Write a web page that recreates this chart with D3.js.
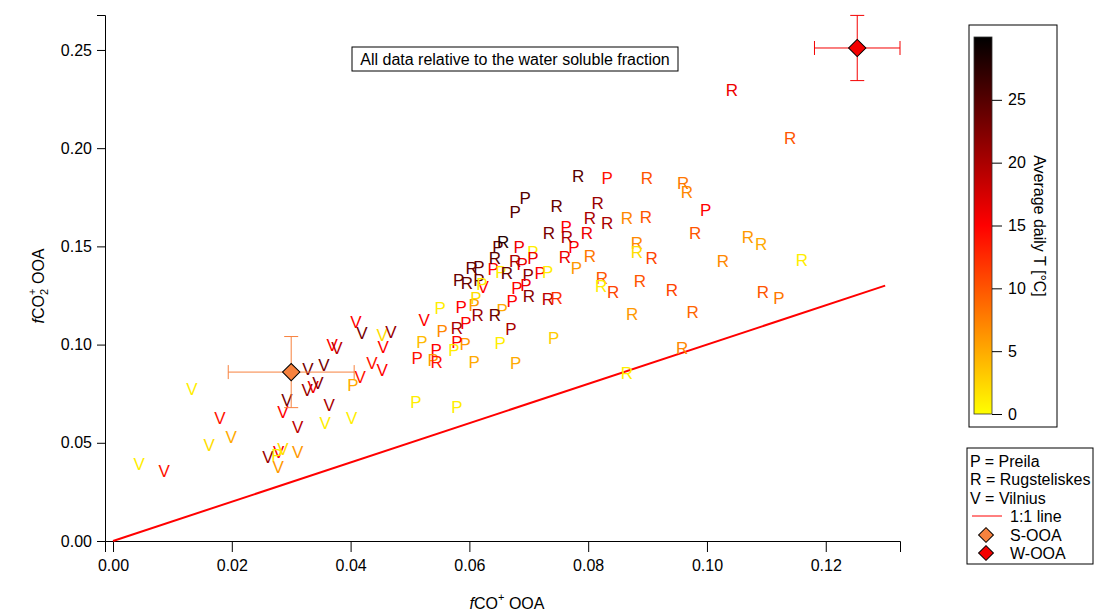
<!DOCTYPE html>
<html>
<head>
<meta charset="utf-8">
<script src="https://cdn.jsdelivr.net/npm/d3@7"></script>
<style>
  body { margin: 0; background: #fff; }
  svg { font-family: "Liberation Sans", Arial, sans-serif; }
</style>
</head>
<body>
<div id="chart"></div>
<script>
// Preila points: fCO+, fCO2+, average daily T
var preilaX = [0.0832, 0.0694, 0.0677, 0.0763, 0.0776, 0.0648, 0.0684, 0.0707, 0.0689, 0.0707, 0.0780, 0.0616,
               0.0640, 0.0653, 0.0699, 0.0719, 0.0732, 0.0680, 0.0695, 0.0672, 0.0582, 0.0616, 0.0621, 0.0551,
               0.0586, 0.0608, 0.0611, 0.0655, 0.0594, 0.0670, 0.0554, 0.0742, 0.0652, 0.0593, 0.0579, 0.0574,
               0.0544, 0.0520, 0.0512, 0.0539, 0.0608, 0.0678, 0.0404, 0.0510, 0.0579, 0.1121, 0.0998, 0.0276]
var preilaY = [0.1848, 0.1746, 0.1675, 0.1599, 0.1497, 0.1497, 0.1497, 0.1471, 0.1410, 0.1441, 0.1390, 0.1395,
               0.1385, 0.1370, 0.1354, 0.1365, 0.1370, 0.1288, 0.1303, 0.1222, 0.1329, 0.1329, 0.1309, 0.1186,
               0.1191, 0.1202, 0.1237, 0.1176, 0.1110, 0.1079, 0.1069, 0.1034, 0.1008, 0.1003, 0.1013, 0.0973,
               0.0973, 0.1013, 0.0932, 0.0922, 0.0911, 0.0906, 0.0794, 0.0708, 0.0682, 0.1237, 0.1685, 0.0438]
var preilaT = [14, 25, 25, 15, 15, 24, 16, 1, 16, 16, 6, 24,
               15, 1, 22, 15, 1, 15, 16, 15, 24, 24, 1, 1,
               15, 6, 2, 5, 15, 20, 7, 3, 1, 6, 15, 1,
               15, 4, 14, 6, 5, 5, 5, 1, 1, 8, 15, 1]

// Rugsteliskes points
var rugX = [0.1042, 0.1140, 0.0783, 0.0899, 0.0960, 0.0966, 0.0747, 0.0816, 0.0803, 0.0832, 0.0865, 0.0897,
            0.0734, 0.0764, 0.0798, 0.0980, 0.1069, 0.1091, 0.0882, 0.0882, 0.0907, 0.0657, 0.0761, 0.0803,
            0.0643, 0.0677, 0.0663, 0.0823, 0.0822, 0.0842, 0.0887, 0.0941, 0.0700, 0.0732, 0.0747, 0.1160,
            0.1027, 0.1094, 0.0874, 0.0976, 0.0958, 0.0865, 0.0604, 0.0596, 0.0614, 0.0643, 0.0579, 0.0545]
var rugY = [0.2296, 0.2052, 0.1858, 0.1848, 0.1823, 0.1777, 0.1706, 0.1721, 0.1645, 0.1619, 0.1645, 0.1650,
            0.1568, 0.1548, 0.1568, 0.1568, 0.1548, 0.1512, 0.1517, 0.1471, 0.1441, 0.1522, 0.1446, 0.1451,
            0.1441, 0.1426, 0.1365, 0.1339, 0.1298, 0.1268, 0.1324, 0.1278, 0.1248, 0.1232, 0.1237, 0.1431,
            0.1426, 0.1268, 0.1156, 0.1166, 0.0983, 0.0855, 0.1390, 0.1314, 0.1151, 0.1151, 0.1085, 0.0911]
var rugT = [16, 10, 25, 10, 8, 7, 24, 21, 20, 20, 7, 10,
            23, 20, 16, 10, 6, 5, 7, 2, 11, 28, 16, 8,
            25, 20, 24, 10, 1, 11, 10, 11, 22, 19, 12, 1,
            7, 10, 6, 9, 7, 1, 24, 24, 21, 24, 20, 14]

// Vilnius points
var vilX = [0.0044, 0.0086, 0.0133, 0.0162, 0.0180, 0.0199, 0.0261, 0.0279, 0.0286, 0.0278, 0.0311, 0.0311,
            0.0286, 0.0293, 0.0327, 0.0337, 0.0345, 0.0328, 0.0355, 0.0364, 0.0357, 0.0402, 0.0416, 0.0436,
            0.0453, 0.0369, 0.0377, 0.0409, 0.0419, 0.0453, 0.0468, 0.0455, 0.0524, 0.0623]
var vilY = [0.0392, 0.0356, 0.0774, 0.0489, 0.0626, 0.0530, 0.0428, 0.0453, 0.0468, 0.0377, 0.0453, 0.0580,
            0.0657, 0.0718, 0.0769, 0.0784, 0.0804, 0.0876, 0.0896, 0.0692, 0.0601, 0.0626, 0.0835, 0.0906,
            0.0871, 0.0998, 0.0983, 0.1115, 0.1059, 0.1049, 0.1064, 0.0988, 0.1125, 0.1293]
var vilT = [1, 14, 1, 2, 14, 5, 21, 15, 2, 6, 6, 19,
            15, 23, 21, 16, 22, 23, 23, 20, 1, 1, 14, 14,
            15, 15, 19, 15, 23, 2, 21, 15, 15, 15]

// factor centroids with error bars
var factorNames = ["S-OOA", "W-OOA"]
var factorX = [0.0300, 0.1253]
var factorY = [0.0860, 0.2510]
var factorXErr = [0.0106, 0.0072]
var factorYErr = [0.0181, 0.0166]
var factorColors = ["#f7823e", "#f40000"]

var xTicks = [0, 0.02, 0.04, 0.06, 0.08, 0.10, 0.12]
var yTicks = [0, 0.05, 0.10, 0.15, 0.20, 0.25]
var tTicks = [0, 5, 10, 15, 20, 25]

var width = 1094, height = 614
var fs = 16

var svg = d3.select("#chart").append("svg")
    .attr("width", width)
    .attr("height", height)

var x = d3.scaleLinear().domain([-0.00135, 0.1325]).range([105, 900])
var y = d3.scaleLinear().domain([0, 0.2678]).range([541, 15])

// yellow -> red -> black colour table
var color = d3.scaleLinear()
    .domain([0, 15, 30])
    .range(["#ffff00", "#ff0000", "#000000"])
    .clamp(true)

// axes
svg.append("g").attr("transform", "translate(0,541)")
    .call(d3.axisBottom(x).tickValues(xTicks).tickFormat(d3.format(".2f")).tickSizeOuter(0).tickSize(11).tickPadding(8))
svg.append("g").attr("transform", "translate(105,0)")
    .call(d3.axisLeft(y).tickValues(yTicks).tickFormat(d3.format(".2f")).tickSizeOuter(0).tickSize(8).tickPadding(5))
svg.selectAll(".domain").attr("stroke", "#000")
svg.selectAll(".tick line").attr("stroke", "#000")
svg.selectAll(".tick text").attr("font-size", fs).attr("fill", "#000").attr("font-family", "Liberation Sans, Arial, sans-serif")

// axis titles
var xt = svg.append("text").attr("x", 507).attr("y", 609).attr("text-anchor", "middle").attr("font-size", fs)
xt.append("tspan").attr("font-style", "italic").text("f")
xt.append("tspan").text("CO")
xt.append("tspan").attr("dy", -8).attr("font-size", 11).text("+")
xt.append("tspan").attr("dy", 8).text(" OOA")

var yt = svg.append("text").attr("transform", "translate(44,286) rotate(-90)").attr("text-anchor", "middle").attr("font-size", fs)
yt.append("tspan").attr("font-style", "italic").text("f")
yt.append("tspan").text("CO")
yt.append("tspan").attr("dy", 4).attr("font-size", 11).text("2")
yt.append("tspan").attr("dy", -12).attr("dx", -6).attr("font-size", 11).text("+")
yt.append("tspan").attr("dy", 8).text(" OOA")

// annotation box
var note = svg.append("g").attr("transform", "translate(515,59)")
note.append("rect").attr("x", -163).attr("y", -12).attr("width", 326).attr("height", 24)
    .attr("fill", "#fff").attr("stroke", "#000")
note.append("text").attr("text-anchor", "middle").attr("dy", "0.35em").attr("font-size", fs)
    .text("All data relative to the water soluble fraction")

// 1:1 line
svg.append("line")
    .attr("x1", x(0)).attr("y1", y(0)).attr("x2", x(0.13)).attr("y2", y(0.13))
    .attr("stroke", "#ff0000").attr("stroke-width", 2)

// letters
function drawSite(letter, xs, ys, ts) {
    svg.append("g").selectAll("text")
        .data(xs.map(function(v, i) { return { x: v, y: ys[i], t: ts[i] } }))
        .enter()
        .append("text")
        .attr("x", function(d) { return x(d.x) })
        .attr("y", function(d) { return y(d.y) })
        .attr("dy", "0.36em")
        .attr("text-anchor", "middle")
        .attr("font-size", 17)
        .attr("fill", function(d) { return color(d.t) })
        .text(letter)
}
drawSite("V", vilX, vilY, vilT)
drawSite("P", preilaX, preilaY, preilaT)
drawSite("R", rugX, rugY, rugT)

// factor markers with error bars
factorNames.forEach(function(n, i) {
    var g = svg.append("g")
    var cx = x(factorX[i]), cy = y(factorY[i])
    var x0 = x(factorX[i] - factorXErr[i]), x1 = x(factorX[i] + factorXErr[i])
    var y0 = y(factorY[i] - factorYErr[i]), y1 = y(factorY[i] + factorYErr[i])
    var c = factorColors[i]
    g.append("line").attr("x1", x0).attr("x2", x1).attr("y1", cy).attr("y2", cy).attr("stroke", c)
    g.append("line").attr("x1", cx).attr("x2", cx).attr("y1", y0).attr("y2", y1).attr("stroke", c)
    g.append("line").attr("x1", x0).attr("x2", x0).attr("y1", cy - 7).attr("y2", cy + 7).attr("stroke", c)
    g.append("line").attr("x1", x1).attr("x2", x1).attr("y1", cy - 7).attr("y2", cy + 7).attr("stroke", c)
    g.append("line").attr("x1", cx - 7).attr("x2", cx + 7).attr("y1", y0).attr("y2", y0).attr("stroke", c)
    g.append("line").attr("x1", cx - 7).attr("x2", cx + 7).attr("y1", y1).attr("y2", y1).attr("stroke", c)
    g.append("path").attr("d", d3.symbol().type(d3.symbolSquare).size(150))
        .attr("transform", "translate(" + cx + "," + cy + ") rotate(45)")
        .attr("fill", c).attr("stroke", "#000").attr("stroke-width", 1)
})

// colour scale box
var cb = svg.append("g")
cb.append("rect").attr("x", 969).attr("y", 25).attr("width", 88).attr("height", 402)
    .attr("fill", "#fff").attr("stroke", "#000")
var tScale = d3.scaleLinear().domain([0, 30]).range([414, 37])
var defs = svg.append("defs")
var grad = defs.append("linearGradient").attr("id", "tgrad")
    .attr("x1", 0).attr("y1", 1).attr("x2", 0).attr("y2", 0)
d3.range(0, 31, 1).forEach(function(t) {
    grad.append("stop").attr("offset", t / 30).attr("stop-color", color(t))
})
cb.append("rect").attr("x", 974).attr("y", tScale(30)).attr("width", 18).attr("height", tScale(0) - tScale(30))
    .attr("fill", "url(#tgrad)").attr("stroke", "#333").attr("stroke-width", 0.8)
cb.append("g").attr("transform", "translate(992,0)")
    .call(d3.axisRight(tScale).tickValues(tTicks).tickSize(10).tickPadding(6).tickSizeOuter(0))
    .call(function(g) {
        g.select(".domain").remove()
        g.selectAll(".tick line").attr("stroke", "#000")
        g.selectAll(".tick text").attr("font-size", fs).attr("fill", "#000").attr("font-family", "Liberation Sans, Arial, sans-serif")
    })
cb.append("text").attr("transform", "translate(1040,226) rotate(90)")
    .attr("text-anchor", "middle").attr("dy", "0.35em").attr("font-size", fs)
    .text("Average daily T [°C]")

// legend
var lg = svg.append("g")
lg.append("rect").attr("x", 967).attr("y", 448).attr("width", 126).attr("height", 116)
    .attr("fill", "#fff").attr("stroke", "#000")
var legendLines = ["P = Preila", "R = Rugsteliskes", "V = Vilnius"]
legendLines.forEach(function(s, i) {
    lg.append("text").attr("x", 970).attr("y", 461 + i * 18.5).attr("dy", "0.35em").attr("font-size", fs).text(s)
})
lg.append("line").attr("x1", 972).attr("x2", 1002).attr("y1", 516).attr("y2", 516).attr("stroke", "#ff0000")
lg.append("text").attr("x", 1010).attr("y", 516).attr("dy", "0.35em").attr("font-size", fs).text("1:1 line")
factorNames.forEach(function(n, i) {
    var yy = 535 + i * 18
    lg.append("path").attr("d", d3.symbol().type(d3.symbolSquare).size(110))
        .attr("transform", "translate(986," + yy + ") rotate(45)")
        .attr("fill", factorColors[i]).attr("stroke", "#000")
    lg.append("text").attr("x", 1010).attr("y", yy).attr("dy", "0.35em").attr("font-size", fs).text(n)
})
</script>
</body>
</html>
